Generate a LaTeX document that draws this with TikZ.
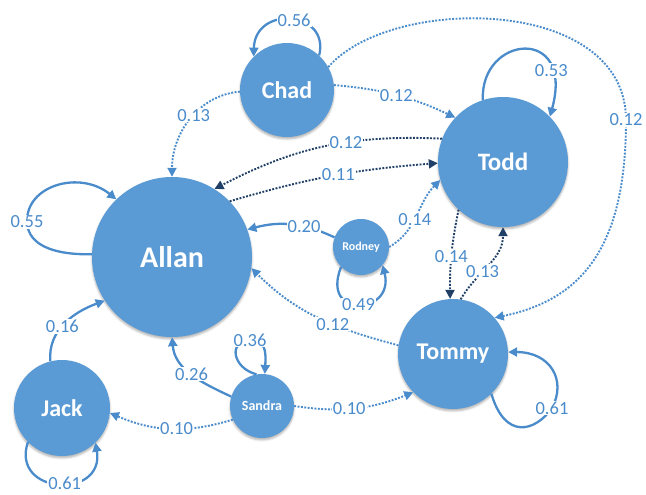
\documentclass[tikz,border=0pt]{standalone}
\usepackage{fontspec}
\setmainfont{Carlito}
\usetikzlibrary{arrows.meta,shadows.blur}
\definecolor{nodeblue}{HTML}{5B9BD5}
\definecolor{edgeblue}{HTML}{4A8BCB}
\definecolor{darkblue}{HTML}{203F66}

\begin{document}
\begin{tikzpicture}[x=1pt,y=1pt,
		state/.style={circle,fill=nodeblue,text=white,inner sep=0pt,
			blur shadow={shadow xshift=0pt,shadow yshift=-2pt,shadow blur radius=2pt,shadow opacity=30}},
		lbl/.style={fill=white,text=edgeblue,font=\fontsize{18.5}{18.5}\selectfont,inner sep=1pt},
		solidedge/.style={draw=edgeblue,line width=2.3pt,-{Triangle[length=9pt,width=9pt]}},
		dotedge/.style={draw=edgeblue,line width=1.9pt,dash pattern=on 1.9pt off 1.5pt,-{Triangle[length=9pt,width=9pt]}},
		darkedge/.style={dotedge,draw=darkblue}]
				\useasboundingbox (0,0) rectangle (646,-495);
				
				\node[state,minimum size=160pt,font=\bfseries\fontsize{30}{30}\selectfont] (allan) at (172,-257) {Allan};
				\node[state,minimum size=94pt,font=\bfseries\fontsize{24}{24}\selectfont] (chad) at (287,-90) {Chad};
				\node[state,minimum size=130pt,font=\bfseries\fontsize{25}{25}\selectfont] (todd) at (503,-162) {Todd};
				\node[state,minimum size=56pt,font=\bfseries\fontsize{12}{12}\selectfont] (rodney) at (361,-247) {Rodney};
				\node[state,minimum size=110pt,font=\bfseries\fontsize{24}{24}\selectfont] (tommy) at (453,-354) {Tommy};
				\node[state,minimum size=96pt,font=\bfseries\fontsize{24}{24}\selectfont] (jack) at (62,-408) {Jack};
				\node[state,minimum size=64pt,font=\bfseries\fontsize{14}{14}\selectfont] (sandra) at (262,-406) {Sandra};
				
				\draw[solidedge] (chad.47) .. controls (330,-10) and (255,-5) .. (chad.135) node[lbl,pos=0.47]{0.56};
				\draw[dotedge] (chad.182) to[out=185,in=90] node[lbl,pos=0.45]{0.13} (allan.90);
				\draw[dotedge] (chad.6) to[bend left=10] node[lbl,pos=0.5]{0.12} (todd.137);
				\draw[dotedge] (chad.29) .. controls (390,5) and (626,5) .. (626,-120) node[lbl]{0.12} .. controls (626,-250) and (580,-300) .. (tommy.41);
				
				\draw[solidedge] (todd.108) .. controls (480,-35) and (575,-25) .. (todd.44) node[lbl,pos=0.78]{0.53};
				\draw[darkedge] (todd.159) to[bend right=15] node[lbl,pos=0.4]{0.12} (allan.58);
				\draw[darkedge] (allan.44) to[bend left=6] node[lbl,pos=0.53]{0.11} (todd.181);
				\draw[darkedge] (todd.227) to[bend right=6] node[lbl,pos=0.53]{0.14} (tommy.93);
				\draw[darkedge] (tommy.82) to[out=60,in=270] node[lbl,pos=0.4]{0.13} (todd.270);
				
				\draw[solidedge] (rodney.160) to[bend right=20] node[lbl,pos=0.35]{0.20} (allan.20);
				\draw[dotedge] (rodney.0) to[out=30,in=225] node[lbl,pos=0.45]{0.14} (todd.196);
				\draw[solidedge] (rodney.225) .. controls (320,-320) and (395,-315) .. (rodney.320) node[lbl,pos=0.5]{0.49};
				
				\draw[dotedge] (tommy.171) to[out=165,in=-45] node[lbl,pos=0.4]{0.12} (allan.352);
				\draw[solidedge] (tommy.314) .. controls (505,-440) and (535,-432) .. (552,-408) node[lbl]{0.61} .. controls (567,-380) and (550,-352) .. (tommy.2);
				
				\draw[solidedge] (allan.178) .. controls (60,-255) and (28,-248) .. (27,-222) node[lbl]{0.55} .. controls (26,-185) and (80,-170) .. (allan.134);
				\draw[solidedge] (jack.104) to[out=95,in=200] node[lbl,pos=0.45]{0.16} (allan.213);
				\draw[solidedge] (jack.225) .. controls (10,-495) and (105,-500) .. (jack.314) node[lbl,pos=0.55]{0.61};
				
				\draw[solidedge] (sandra.163) to[out=155,in=-85] node[lbl,pos=0.5]{0.26} (allan.270);
				\draw[solidedge] (sandra.100) .. controls (232,-368) and (228,-340) .. (250,-340) node[lbl]{0.36} .. controls (266,-340) and (266,-352) .. (sandra.85);
				\draw[dotedge] (sandra.205) to[bend left=20] node[lbl,pos=0.45]{0.10} (jack.354);
				\draw[dotedge] (sandra.0) to[bend right=15] node[lbl,pos=0.45]{0.10} (tommy.224);
			\end{tikzpicture}
\end{document}
